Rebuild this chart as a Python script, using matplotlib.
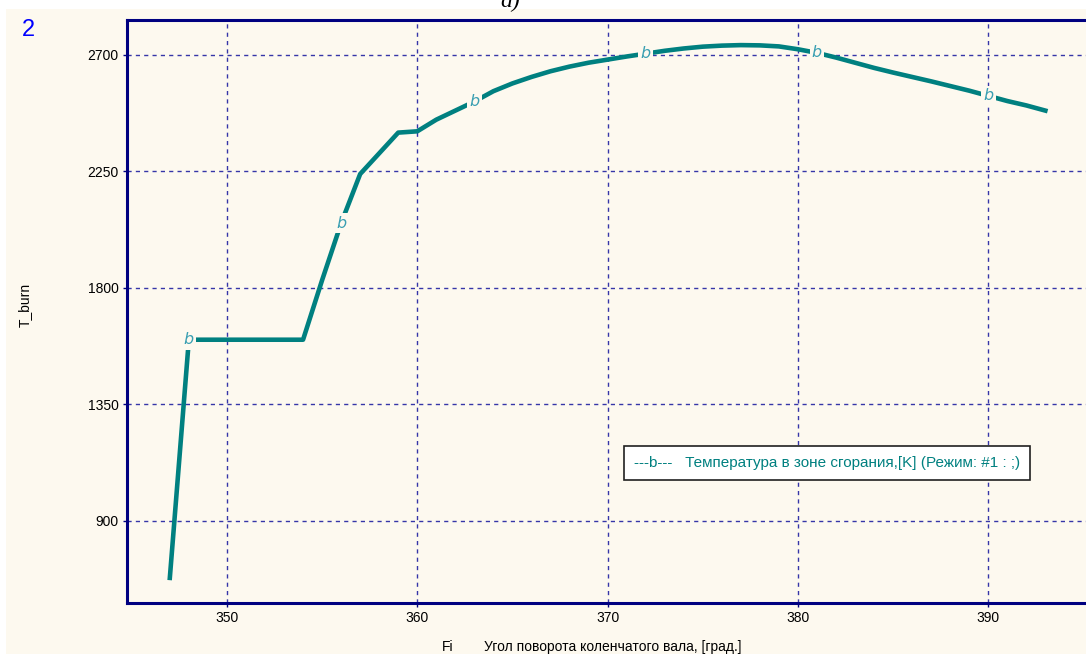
import numpy as np
import matplotlib.pyplot as plt
from matplotlib.patches import Rectangle

# crank angle, deg and burn zone temperature, K
fi = [347, 348, 354, 355, 356, 357, 358, 359, 360, 361, 362, 363, 364, 365,
      366, 367, 368, 369, 370, 371, 372, 373, 374, 375, 376, 377, 378, 379,
      380, 381, 382, 383, 384, 385, 386, 387, 388, 389, 390, 391, 392, 393]
t_burn = [680, 1600, 1600, 1830, 2050, 2240, 2320, 2400, 2405, 2450, 2485, 2520,
          2560, 2590, 2615, 2637, 2655, 2670, 2682, 2694, 2705, 2716, 2725, 2732,
          2736, 2738, 2737, 2733, 2722, 2708, 2690, 2670, 2650, 2632, 2615, 2598,
          2580, 2562, 2542, 2522, 2505, 2485]
mark_fi = [348, 356, 363, 372, 381, 390]

xticks = [350, 360, 370, 380, 390]
yticks = [900, 1350, 1800, 2250, 2700]

bg = '#fdf9ef'
navy = '#000080'
teal = '#008080'

plt.rcParams['font.family'] = ['Liberation Sans Narrow', 'Liberation Sans', 'DejaVu Sans']

fig = plt.figure(figsize=(10.86, 6.54), dpi=100)
fig.patch.set_facecolor('white')
W, H = 1086., 654.
fig.patches.append(Rectangle((6 / W, 0), 1, 1 - 9 / H, transform=fig.transFigure,
                             fc=bg, ec='none', zorder=-10))

ax = fig.add_axes([127 / W, (H - 603) / H, (1092 - 127) / W, (603 - 20) / H])
ax.set_facecolor(bg)
ax.set_xlim(344.75, 395.45)
ax.set_ylim(583, 2835)

ax.plot(fi, t_burn, color=teal, lw=3.3, solid_joinstyle='round', zorder=3)
for m in mark_fi:
    yv = np.interp(m, fi, t_burn)
    ax.text(m, yv, 'b', ha='center', va='center', style='italic', fontsize=11.5,
            color='#3a9fb2', family='DejaVu Sans', zorder=4,
            bbox=dict(boxstyle='square,pad=0.15', fc=bg, ec='none'))

ax.set_xticks(xticks)
ax.set_yticks(yticks)
ax.grid(True, color='#3636a8', lw=1.0, linestyle=(0, (3, 3)))
ax.set_axisbelow(True)
for s in ax.spines.values():
    s.set_color(navy)
    s.set_linewidth(2.2)
ax.tick_params(direction='out', length=3, width=1, color=navy, labelsize=10,
               labelcolor='black', pad=3)

ax.text(0.525, 0.24, '---b---   Температура в зоне сгорания,[K] (Режим: #1 : ;)',
        transform=ax.transAxes, ha='left', va='center', color=teal, fontsize=11,
        family=['Liberation Sans', 'DejaVu Sans'],
        bbox=dict(boxstyle='square,pad=0.65', fc='white', ec='#202020', lw=1.2))

fig.text(28 / W, 1 - 30 / H, '2', color='#0000ff', fontsize=17, ha='center',
         va='center', family=['Liberation Sans', 'DejaVu Sans'])
fig.text(510 / W, 1 - 7 / H, 'a)', family='Liberation Serif', style='italic',
         fontsize=17, ha='center', va='baseline')
fig.text(25 / W, 1 - 305 / H, 'T_burn', rotation=90, ha='center', va='center',
         fontsize=10)
fig.text(448 / W, 1 - 647 / H, 'Fi', ha='center', va='center', fontsize=10)
fig.text(484 / W, 1 - 647 / H, 'Угол поворота коленчатого вала, [град.]',
         ha='left', va='center', fontsize=10)

fig.savefig('out.png', dpi=100, facecolor=fig.get_facecolor())
